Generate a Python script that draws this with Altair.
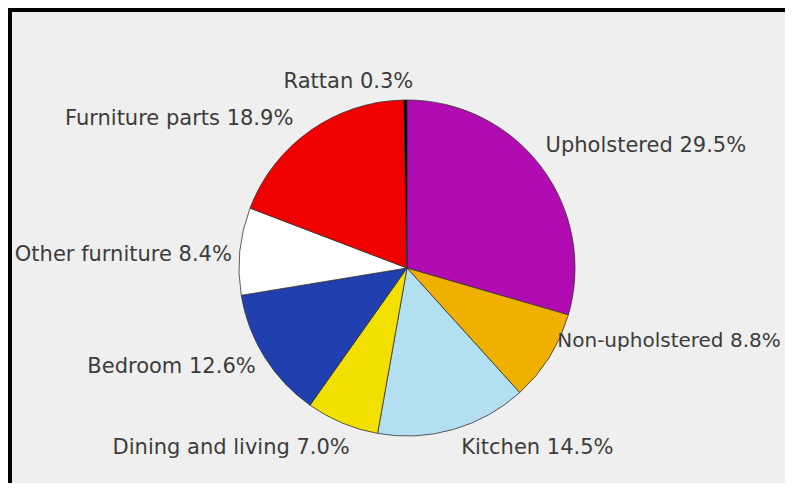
import altair as alt
import pandas as pd

categories = ["Upholstered", "Non-upholstered", "Kitchen", "Dining and living",
              "Bedroom", "Other furniture", "Furniture parts", "Rattan"]
shares = [29.5, 8.8, 14.5, 7.0, 12.6, 8.4, 18.9, 0.3]
colors = ["#b00cb2", "#f0b000", "#b3e0f0", "#f3e000",
          "#1f40ae", "#ffffff", "#f00000", "#000000"]

df = pd.DataFrame({"category": categories, "share": shares,
                   "idx": list(range(len(categories)))})

W, H = 777, 475
cx, cy = 399, 260

# label placement tweaks (style only): (align, dx, dy, fontSize)
label_style = {
    "Upholstered": ("left", -7, -13, 21),
    "Non-upholstered": ("left", -4, -24, 20),
    "Kitchen": ("left", 4, 5, 21),
    "Dining and living": ("right", 13, 12, 21),
    "Bedroom": ("right", 3, 2, 21),
    "Other furniture": ("right", 6, 5, 21),
    "Furniture parts": ("right", -9, 0, 21),
    "Rattan": ("right", 8, -4, 21),
}

base = alt.Chart(df).transform_window(
    cum="sum(share)", sort=[alt.SortField("idx")], frame=[None, 0]
).transform_calculate(
    start="datum.cum - datum.share",
    mid="datum.cum - datum.share / 2",
    label="datum.category + ' ' + format(datum.share, '.1f') + '%'"
)

arcs = base.mark_arc(outerRadius=168, stroke="#333333", strokeWidth=0.8).encode(
    theta=alt.Theta("start:Q", scale=alt.Scale(domain=[0, 100])),
    theta2="cum:Q",
    color=alt.Color("category:N", scale=alt.Scale(domain=categories, range=colors), legend=None),
    x=alt.value(cx), y=alt.value(cy),
)

layers = [arcs]
for cat in categories:
    align, dx, dy, fs = label_style[cat]
    layers.append(
        base.transform_filter(alt.datum.category == cat).mark_text(
            radius=182, align=align, baseline="middle", dx=dx, dy=dy,
            font="DejaVu Sans", fontSize=fs, color="#3c3c3c",
        ).encode(theta=alt.Theta("mid:Q"), text="label:N", x=alt.value(cx), y=alt.value(cy))
    )

one = pd.DataFrame({"a": [0]})
top_border = alt.Chart(one).mark_rule(color="black", strokeWidth=4).encode(
    x=alt.value(0), x2=alt.value(W), y=alt.value(2))
left_border = alt.Chart(one).mark_rule(color="black", strokeWidth=4).encode(
    x=alt.value(2), y=alt.value(0), y2=alt.value(H))
layers += [top_border, left_border]

chart = alt.layer(*layers).properties(
    width=W, height=H,
    autosize=alt.AutoSizeParams(type="none"),
    padding=0, background="#efefef",
).configure_view(stroke=None, fill="#efefef")

chart.save("out.html", embed_options={"renderer": "svg", "actions": False})
